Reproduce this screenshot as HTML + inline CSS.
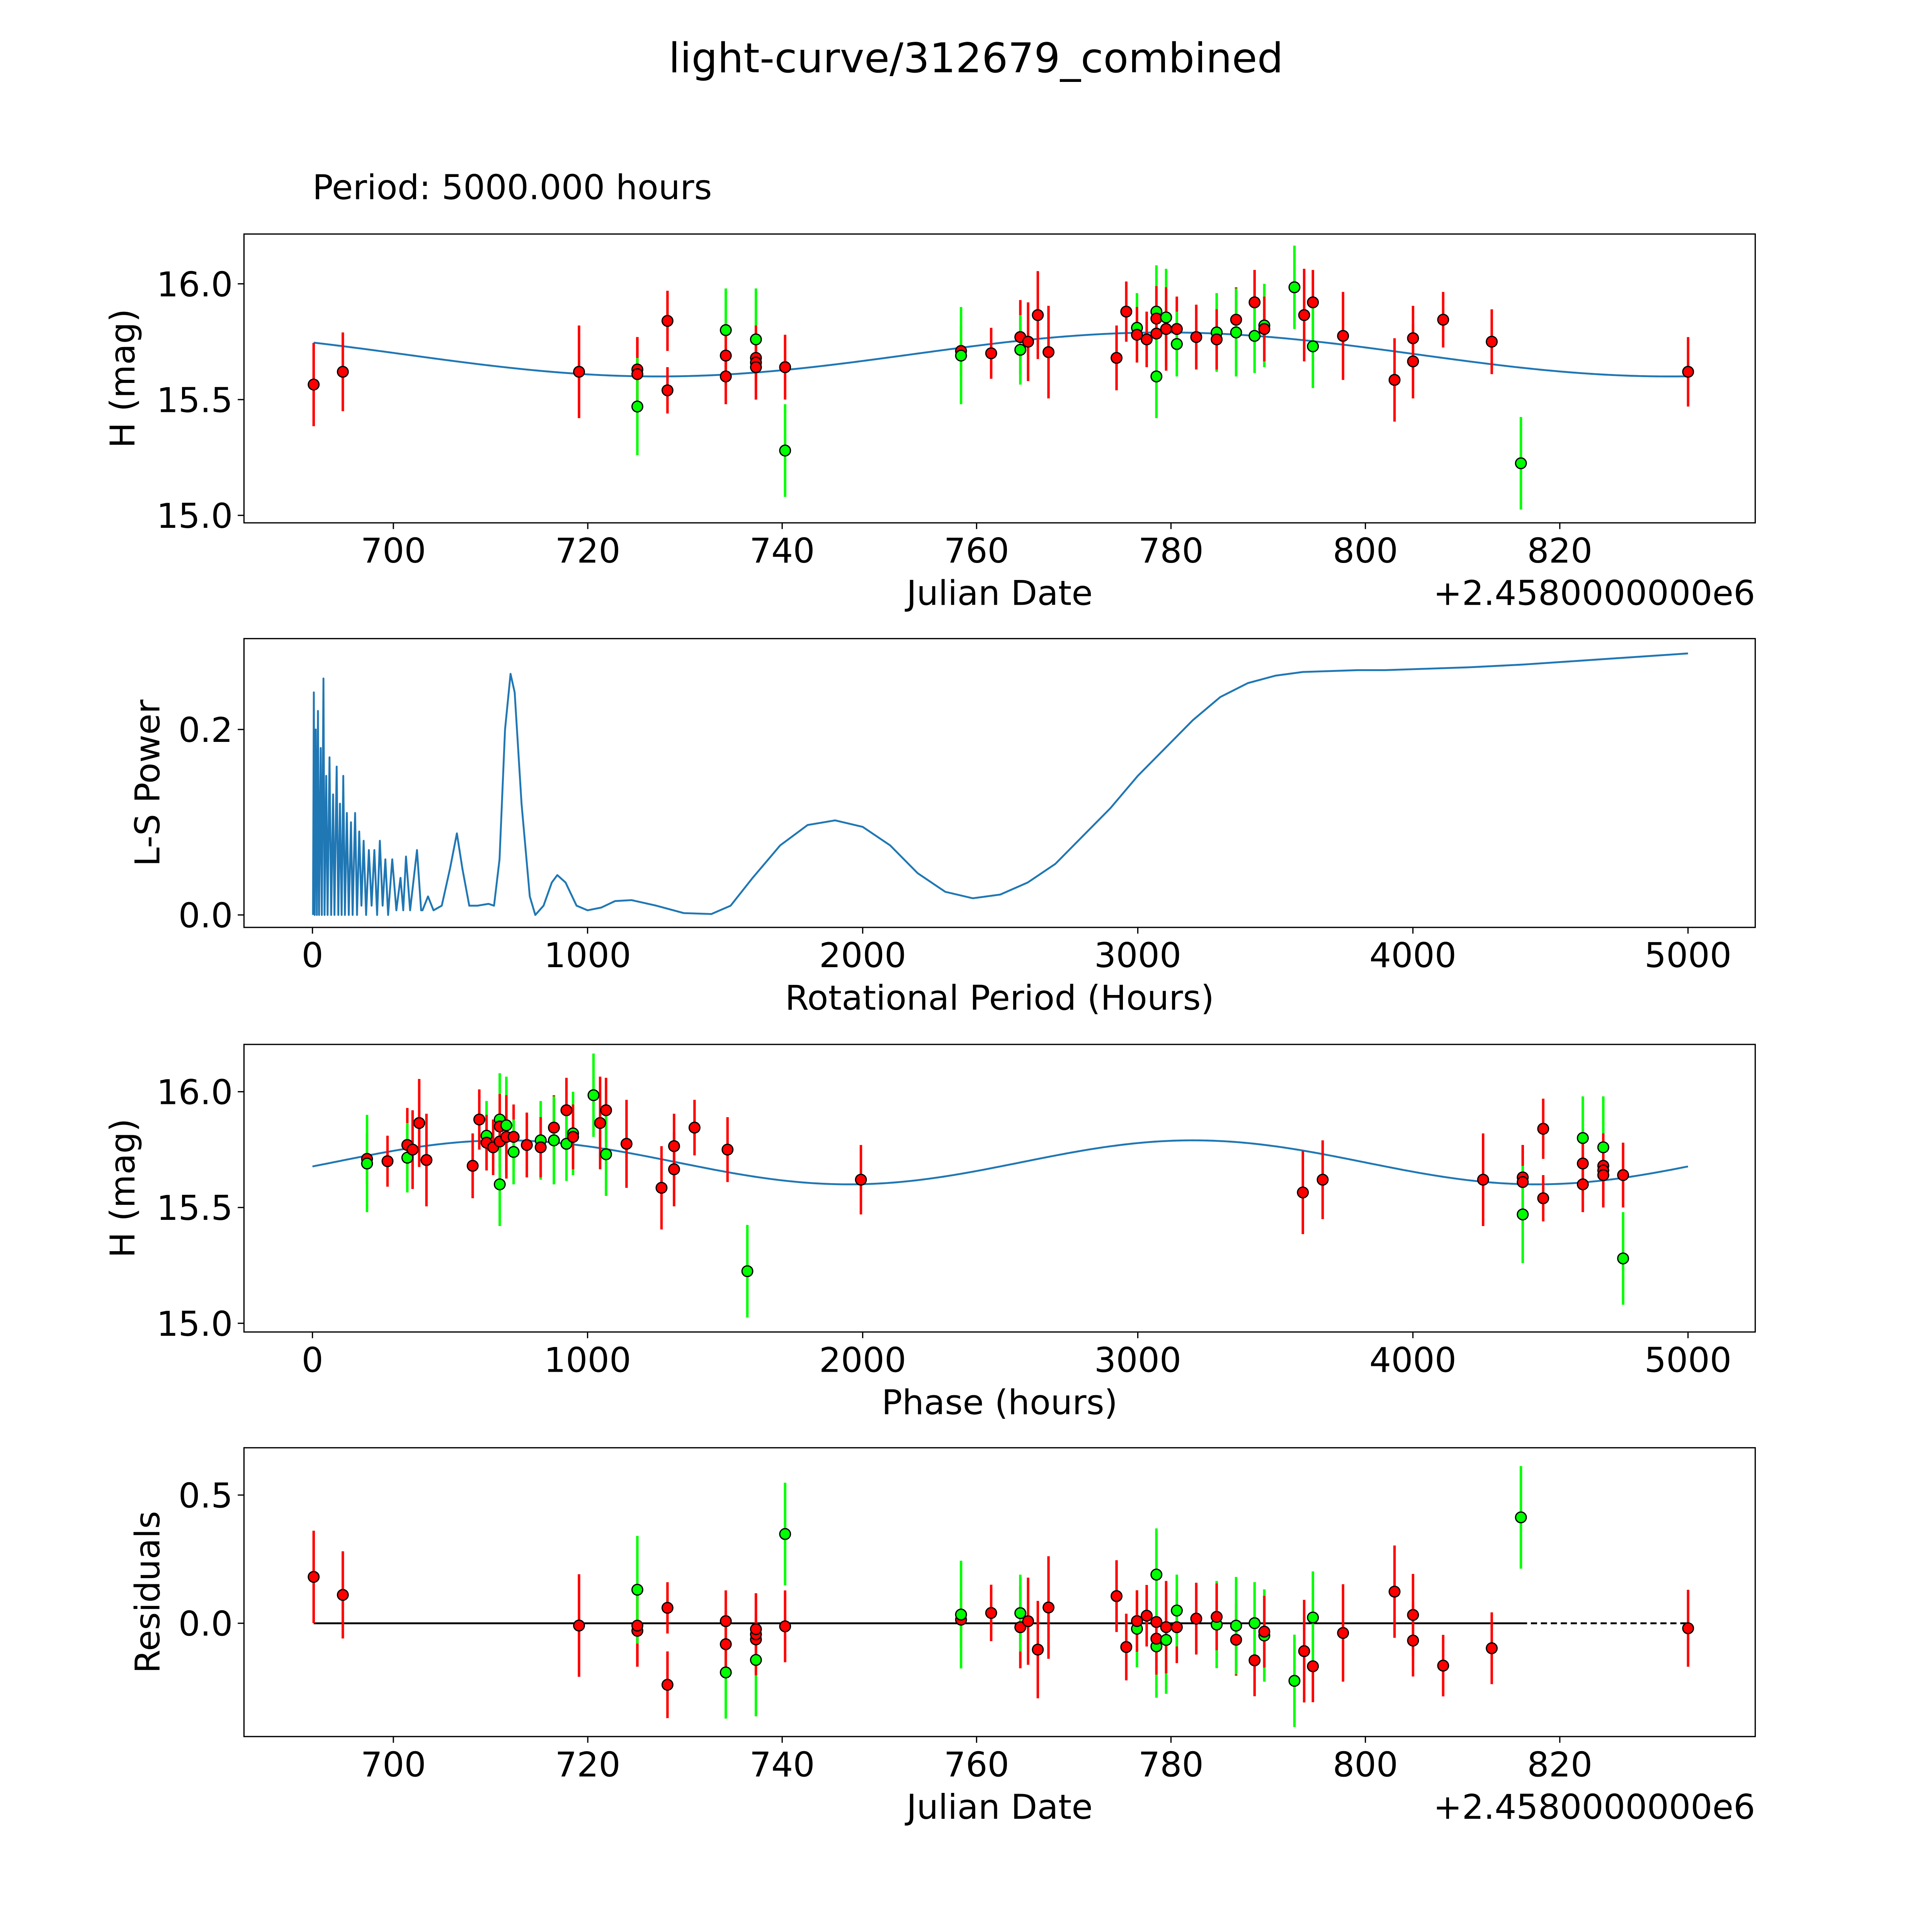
<!DOCTYPE html>
<html><head><meta charset="utf-8">
<style>html,body{margin:0;padding:0;background:#fff;width:100%;height:100%;overflow:hidden}svg{display:block;width:100vw;height:100vh}text{font-family:"DejaVu Sans","Liberation Sans",sans-serif;fill:#000}</style>
</head><body>
<svg id="fig" viewBox="0 0 1552 1552" preserveAspectRatio="xMidYMid meet" xmlns="http://www.w3.org/2000/svg">
<rect width="1552" height="1552" fill="#fff"/>
<text x="784" y="58" font-size="33" text-anchor="middle">light-curve/312679_combined</text>
<text x="251" y="160" font-size="27.5">Period: 5000.000 hours</text>
</svg>
<script>
// observation data
const obsDates=[691.8,694.8,719.1,725.1,725.1,725.1,728.2,728.2,734.2,734.2,734.2,737.3,737.3,737.3,737.3,740.3,740.3,758.4,758.4,761.5,764.5,764.5,765.3,766.3,767.4,774.4,775.4,776.5,776.5,777.5,778.5,778.5,778.5,778.5,779.5,779.5,780.6,780.6,782.6,784.7,784.7,786.7,786.7,788.6,788.6,789.6,789.6,792.7,793.7,794.6,794.6,797.7,803.0,804.9,804.9,808.0,813.0,816.0,833.2];
const obsMags=[15.565,15.62,15.62,15.63,15.61,15.47,15.84,15.54,15.80,15.69,15.60,15.76,15.68,15.66,15.64,15.64,15.28,15.71,15.69,15.70,15.77,15.715,15.75,15.865,15.705,15.68,15.88,15.81,15.78,15.76,15.88,15.85,15.785,15.60,15.855,15.805,15.805,15.74,15.77,15.79,15.76,15.845,15.79,15.92,15.775,15.82,15.805,15.985,15.865,15.92,15.73,15.775,15.585,15.765,15.665,15.845,15.75,15.225,15.62];
const obsErrs=[0.18,0.17,0.2,0.14,0.16,0.21,0.13,0.1,0.18,0.13,0.12,0.22,0.1,0.16,0.14,0.14,0.2,0.11,0.21,0.11,0.16,0.15,0.17,0.19,0.2,0.14,0.13,0.15,0.12,0.12,0.2,0.14,0.12,0.18,0.21,0.18,0.14,0.14,0.14,0.17,0.13,0.14,0.19,0.14,0.16,0.18,0.14,0.18,0.2,0.14,0.18,0.19,0.18,0.14,0.16,0.12,0.14,0.2,0.15];
const obsFilters=['r','r','r','r','r','g','r','r','g','r','r','g','r','r','r','r','g','r','g','r','r','g','r','r','r','r','r','g','r','r','g','r','r','g','g','r','r','g','r','g','r','r','g','r','g','g','r','g','r','r','g','r','r','r','r','r','r','g','r'];
// model / fold parameters
const periodHours=5000, t0=691.8, phase0=3600, modelMean=15.695, modelAmp=0.095, modelPeakPhase=3200;
// periodogram data
const lsPeriods=[2,5,8,12,16,20,24,30,34,40,44,50,55,62,68,75,80,88,94,100,106,112,118,125,132,140,146,155,162,170,178,186,195,205,215,225,235,245,255,265,275,290,305,320,330,340,355,380,395,400,420,440,470,500,525,545,570,600,640,660,680,700,720,735,760,790,810,840,870,890,920,960,1000,1050,1100,1160,1250,1350,1450,1520,1600,1700,1800,1900,2000,2100,2200,2300,2400,2500,2600,2700,2800,2900,3000,3100,3200,3300,3400,3500,3600,3700,3800,3900,4000,4200,4400,4600,4800,5000];
const lsPowers=[0,0.24,0,0.2,0,0.22,0,0.18,0,0.255,0,0.15,0,0.17,0,0.13,0,0.16,0,0.12,0,0.15,0,0.11,0,0.10,0,0.11,0,0.09,0.01,0.08,0,0.07,0.01,0.07,0,0.08,0.01,0.06,0,0.06,0.005,0.04,0.005,0.063,0.005,0.07,0.005,0.005,0.02,0.005,0.01,0.05,0.088,0.05,0.01,0.01,0.012,0.01,0.06,0.2,0.26,0.24,0.12,0.02,0.0,0.01,0.035,0.043,0.035,0.01,0.005,0.008,0.015,0.016,0.01,0.002,0.001,0.01,0.04,0.075,0.097,0.102,0.095,0.075,0.045,0.025,0.018,0.022,0.035,0.055,0.085,0.115,0.15,0.18,0.21,0.235,0.25,0.258,0.262,0.263,0.264,0.264,0.265,0.267,0.27,0.274,0.278,0.282];
const dateTicks=[700,720,740,760,780,800,820];
const magTicks=[15.0,15.5,16.0];
const periodTicks=[0,1000,2000,3000,4000,5000];
const powerTicks=[0.0,0.2];
const residTicks=[0.0,0.5];

const NS='http://www.w3.org/2000/svg', svg=document.getElementById('fig');
function mk(tag,attrs,parent){const e=document.createElementNS(NS,tag);for(const k in attrs)e.setAttribute(k,attrs[k]);(parent||svg).appendChild(e);return e;}
function lin(d0,d1,r0,r1){return v=>r0+(v-d0)*(r1-r0)/(d1-d0);}
function model(ph){return modelMean+modelAmp*Math.cos(2*Math.PI*2*(ph-modelPeakPhase)/periodHours);}
function phaseOf(t){return (((t-t0)*24+phase0)%periodHours+periodHours)%periodHours;}
const L=196,R=1410;
function frame(g,top,bot,xs,ys,xt,yt,xdec,ydec,xlabel,ylabel,ylx){
  const b=mk('rect',{x:L,y:top,width:R-L,height:bot-top,fill:'none',stroke:'#000','stroke-width':1},g);
  
  
  xt.forEach(v=>{const x=xs(v);mk('line',{x1:x,x2:x,y1:bot,y2:bot+5,stroke:'#000'},g);
    const t=mk('text',{x:x,y:bot+32,'font-size':27.5,'text-anchor':'middle'},g);t.textContent=v.toFixed(xdec);
    
    });
  yt.forEach(v=>{const y=ys(v);mk('line',{x1:L-5,x2:L,y1:y,y2:y,stroke:'#000'},g);
    const t=mk('text',{x:L-9,y:y+10,'font-size':27.5,'text-anchor':'end'},g);t.textContent=v.toFixed(ydec);
    
    });
  const xl=mk('text',{x:(L+R)/2,y:bot+66,'font-size':27.5,'text-anchor':'middle'},g);xl.textContent=xlabel;
  
  
  const yl=mk('text',{x:ylx,y:(top+bot)/2,'font-size':27.5,'text-anchor':'middle',transform:`rotate(-90 ${ylx} ${(top+bot)/2})`},g);yl.textContent=ylabel;
  
  
}
function offset(g,bot){const t=mk('text',{x:R,y:bot+66,'font-size':27.5,'text-anchor':'end'},g);t.textContent='+2.4580000000e6';
  
  }
function points(g,n,xv,yraw,ys){
  for(let i=0;i<n;i++){const col=obsFilters[i]==='g'?'#00ff00':'#ff0000';
    const x=xv(i),e=obsErrs[i];
    const l=mk('line',{x1:x,x2:x,y1:ys(yraw(i)+e),y2:ys(yraw(i)-e),stroke:col,'stroke-width':2},g);
    
    }
  for(let i=0;i<n;i++){const col=obsFilters[i]==='g'?'#00ff00':'#ff0000';
    const c=mk('circle',{cx:xv(i),cy:ys(yraw(i)),r:4.3,fill:col,stroke:'#000','stroke-width':1},g);
    
    }
}
const N=obsDates.length;
// Panel 1
(function(){const g=mk('g',{});
  const top=188,bot=420,xs=lin(700,820,316,1253),ys=lin(15.0,16.0,414,228);
  const xMin=Math.min(...obsDates),xMax=Math.max(...obsDates);let d='';
  for(let k=0;k<=400;k++){const t=xMin+(xMax-xMin)*k/400;d+=(k?'L':'M')+xs(t).toFixed(2)+' '+ys(model(phaseOf(t))).toFixed(2);}
  const p=mk('path',{d:d,fill:'none',stroke:'#1f77b4','stroke-width':1.5},g);
  points(g,N,i=>xs(obsDates[i]),i=>obsMags[i],ys);
  frame(g,top,bot,xs,ys,dateTicks,magTicks,0,1,'Julian Date','H (mag)',108);offset(g,bot);})();
// Panel 2
(function(){const g=mk('g',{});
  const top=513,bot=745,xs=lin(0,5000,251,1356),ys=lin(0,0.2,735,586);let d='';
  lsPeriods.forEach((p,i)=>{d+=(i?'L':'M')+xs(p).toFixed(2)+' '+ys(lsPowers[i]).toFixed(2);});
  const p=mk('path',{d:d,fill:'none',stroke:'#1f77b4','stroke-width':1.5,'stroke-linejoin':'round'},g);
  frame(g,top,bot,xs,ys,periodTicks,powerTicks,0,1,'Rotational Period (Hours)','L-S Power',128);})();
// Panel 3
(function(){const g=mk('g',{});
  const top=839,bot=1070,xs=lin(0,5000,251,1356),ys=lin(15.0,16.0,1063,877);let d='';
  for(let k=0;k<=400;k++){const ph=periodHours*k/400;d+=(k?'L':'M')+xs(ph).toFixed(2)+' '+ys(model(ph)).toFixed(2);}
  const p=mk('path',{d:d,fill:'none',stroke:'#1f77b4','stroke-width':1.5},g);
  points(g,N,i=>xs(phaseOf(obsDates[i])),i=>obsMags[i],ys);
  frame(g,top,bot,xs,ys,periodTicks,magTicks,0,1,'Phase (hours)','H (mag)',108);})();
// Panel 4
(function(){const g=mk('g',{});
  const top=1163,bot=1395,xs=lin(700,820,316,1253),ys=lin(0,0.5,1304,1201);
  const res=obsDates.map((t,i)=>model(phaseOf(t))-obsMags[i]);
  const xMin=Math.min(...obsDates),xMax=Math.max(...obsDates);
  const sorted=[...obsDates].sort((a,b)=>a-b);const xSecond=sorted[sorted.length-2];
  const l1=mk('line',{x1:xs(xMin),x2:xs(xSecond),y1:ys(0),y2:ys(0),stroke:'#000','stroke-width':1.5},g);
  const l2=mk('line',{x1:xs(xSecond),x2:xs(xMax),y1:ys(0),y2:ys(0),stroke:'#000','stroke-width':1.5,'stroke-dasharray':'5 3'},g);
  points(g,N,i=>xs(obsDates[i]),i=>res[i],ys);
  frame(g,top,bot,xs,ys,dateTicks,residTicks,0,1,'Julian Date','Residuals',128);offset(g,bot);})();
</script>
</body></html>
